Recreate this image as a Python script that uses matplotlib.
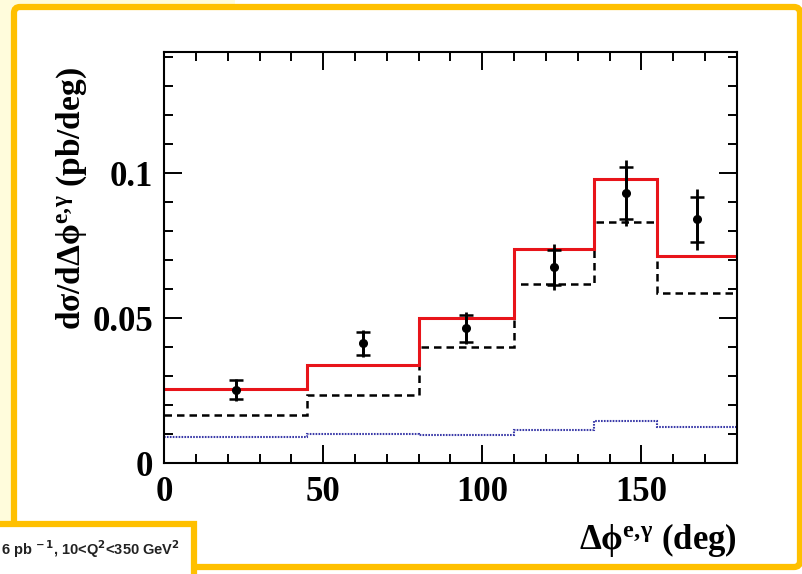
import numpy as np
import matplotlib
matplotlib.use('Agg')
import matplotlib.pyplot as plt
from matplotlib.patches import Rectangle, FancyBboxPatch
from matplotlib.transforms import IdentityTransform
from matplotlib.ticker import MultipleLocator

plt.rcParams['font.family'] = ['Liberation Serif', 'DejaVu Serif']
plt.rcParams['font.weight'] = 'bold'
plt.rcParams['mathtext.fontset'] = 'custom'
plt.rcParams['mathtext.rm'] = 'Liberation Serif:bold'
plt.rcParams['mathtext.it'] = 'Liberation Serif:italic:bold'
plt.rcParams['mathtext.bf'] = 'Liberation Serif:bold'

# binning in delta phi (deg)
edges = [0, 45, 80, 110, 135, 155, 180]
mc_total = [0.0255, 0.0339, 0.0500, 0.0738, 0.0979, 0.0716]
mc_radiative = [0.0167, 0.0236, 0.0400, 0.0618, 0.0833, 0.0586]
mc_dvcs = [0.0090, 0.0101, 0.0098, 0.0115, 0.0147, 0.0126]

# measured cross section, stat and total errors (pb/deg)
data_x = [22.5, 62.5, 95.0, 122.5, 145.0, 167.5]
data_y = [0.0253, 0.0414, 0.0466, 0.0676, 0.0931, 0.0841]
stat_err = [0.0033, 0.0040, 0.0047, 0.0060, 0.0089, 0.0077]
tot_err = [0.0039, 0.0047, 0.0056, 0.0079, 0.0113, 0.0106]

yticks = [0, 0.05, 0.1]
ytick_labels = ['0', '0.05', '0.1']
xticks = [0, 50, 100, 150]

W, H = 803, 574
fig = plt.figure(figsize=(W / 100, H / 100), dpi=100, facecolor='white')


def px_rect(x0, y0, x1, y1):
    # pixel box measured from the top-left corner -> display coords
    return (x0, H - y1), x1 - x0, y1 - y0


orange = '#ffc000'
(xy, w, h) = px_rect(0, 0, 235, 523)
fig.add_artist(Rectangle(xy, w, h, transform=IdentityTransform(),
                         facecolor='#fffcdc', edgecolor='none', zorder=-10))
(xy, w, h) = px_rect(14, 7, 800, 567)
fig.add_artist(FancyBboxPatch(xy, w, h, boxstyle='round,pad=0,rounding_size=6',
                              transform=IdentityTransform(), facecolor='white',
                              edgecolor=orange, linewidth=4.5, zorder=-9))
(xy, w, h) = px_rect(-10, 524, 194, 590)
fig.add_artist(Rectangle(xy, w, h, transform=IdentityTransform(),
                         facecolor='white', edgecolor=orange, linewidth=4.5, zorder=-8))
fig.text(1 / W, 1 - 549 / H,
         r'6 pb$^{\mathbf{\,-1}}$, 10<Q$^{\mathbf{2}}$<350 GeV$^{\mathbf{2}}$',
         family='Liberation Sans', fontsize=10.5, color='#222222',
         ha='left', va='center', math_fontfamily='dejavusans')

ax = fig.add_axes([164 / W, 1 - 463.3 / H, (737 - 164) / W, (463.3 - 52) / H])
ax.set_facecolor('none')

ax.stairs(mc_dvcs, edges, baseline=None, color='#3a3aa8', linewidth=1.5,
          linestyle=(0, (0.8, 0.6)))
ax.stairs(mc_radiative, edges, baseline=None, color='black', linewidth=1.8,
          linestyle=(0, (3, 2)))
ax.stairs(mc_total, edges, baseline=None, color='#e8141a', linewidth=2.2)

ax.errorbar(data_x, data_y, yerr=tot_err, fmt='o', color='black', markersize=5.5,
            elinewidth=2.0, capsize=0, zorder=5)
ax.errorbar(data_x, data_y, yerr=stat_err, fmt='none', ecolor='black',
            elinewidth=2.0, capsize=5, capthick=1.8, zorder=5)

ax.set_xlim(0, 180)
ax.set_ylim(0, 0.1418)
ax.set_xticks(xticks)
ax.set_xticklabels([str(v) for v in xticks])
ax.set_yticks(yticks)
ax.set_yticklabels(ytick_labels)
ax.xaxis.set_minor_locator(MultipleLocator(10))
ax.yaxis.set_minor_locator(MultipleLocator(0.01))
ax.tick_params(which='both', direction='in', top=True, right=True, width=1.4,
               labelsize=25, colors='black')
ax.tick_params(which='major', length=13)
ax.tick_params(which='minor', length=6.5)
ax.tick_params(axis='x', pad=9)
ax.tick_params(axis='y', pad=8)
for sp in ax.spines.values():
    sp.set_linewidth(1.5)

sup = r'^{\mathrm{e,\!γ}}'
fig.text(737 / W, 1 - 540 / H, r'$\mathrm{Δϕ}' + sup + '$ (deg)', fontsize=25,
         ha='right', va='center')
fig.text(72 / W, 1 - 199 / H, r'd$\mathrm{σ}$/d$\mathrm{Δϕ}' + sup + '$ (pb/deg)',
         fontsize=24, rotation=90, ha='center', va='center')

fig.savefig('out.png', dpi=100, facecolor='white')
